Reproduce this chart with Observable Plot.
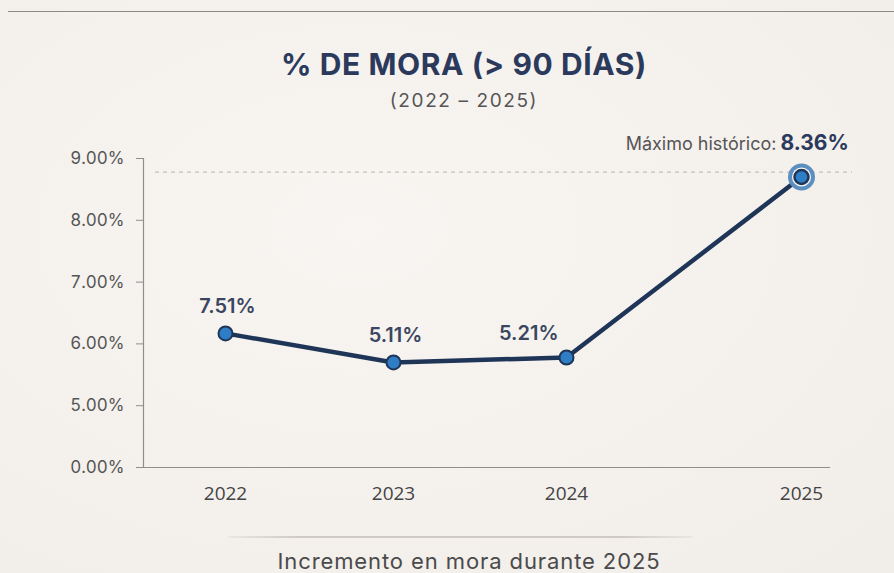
<!DOCTYPE html>
<html><head><meta charset="utf-8">
<script src="https://cdn.jsdelivr.net/npm/d3@7"></script>
<script src="https://cdn.jsdelivr.net/npm/@observablehq/plot@0.6"></script>
<style>
body{margin:0;background:#f5f1ed;}
#wrap{position:relative;width:894px;height:573px;overflow:hidden;background:radial-gradient(ellipse at 40% 40%,#f8f5f2 0%,#f4f0ec 60%,#f1ede8 100%);font-family:Inter,"DejaVu Sans",sans-serif;}
#topline{position:absolute;left:8px;right:0;top:11px;border-top:1.5px solid #8e8984;}
.t{position:absolute;left:0;width:928px;text-align:center;line-height:1;white-space:nowrap;}
#title{top:49px;font-size:30px;font-weight:700;color:#2b3a5c;letter-spacing:0.6px;}
#subtitle{top:91px;font-size:19px;color:#555;letter-spacing:1.6px;}
#capline{position:absolute;left:228px;width:464px;top:536px;height:1.5px;background:linear-gradient(90deg,rgba(200,195,190,0.2),#cfcac4 15%,#cfcac4 85%,rgba(200,195,190,0.2));}
#caption{top:550px;font-size:22px;color:#4a4a4a;width:938px;letter-spacing:0.9px;}
#chart{position:absolute;left:0;top:0;}
</style></head>
<body>
<div id="wrap">
  <div id="topline"></div>
  <div id="chart"></div>
  <div id="title" class="t">% DE MORA (&gt; 90 DÍAS)</div>
  <div id="subtitle" class="t">(2022 – 2025)</div>
  <div id="capline"></div>
  <div id="caption" class="t">Incremento en mora durante 2025</div>
</div>
<script>
// ---- data ----
const years = [2022, 2023, 2024, 2025];
const labelValues = [7.51, 5.11, 5.21, 8.36];      // values printed on the chart
const plottedValues = [6.17, 5.70, 5.78, 8.70];    // where the points sit on the printed axis
const tickValues = [0, 5, 6, 7, 8, 9];
const tickLabels = ["0.00%", "5.00%", "6.00%", "7.00%", "8.00%", "9.00%"];
const maxLineValue = 8.78;
const maxLabelPrefix = "Máximo histórico:";

// broken axis: 0→5 takes one step, then one step per point
const u = v => v <= 5 ? v / 5 : v - 4;

const data = years.map((year, i) => ({year, label: labelValues[i], v: plottedValues[i]}));
const last = data[data.length - 1];
const fmt = d => d.label.toFixed(2) + "%";

const navy = "#1f3557", blue = "#2f7dc5";
const FM = "Inter, 'DejaVu Sans', sans-serif";

const chart = Plot.plot({
  width: 894, height: 573,
  marginTop: 158, marginBottom: 106, marginLeft: 143, marginRight: 64,
  style: {background: "transparent", fontFamily: FM},
  x: {type: "linear", domain: years, range: [225, 393, 566, 801], label: null},
  y: {domain: [0, 5], label: null},
  marks: [
    Plot.ruleY([maxLineValue], {y: u, stroke: "#c6c1bc", strokeWidth: 1.2, strokeDasharray: "4,4", insetLeft: 12, insetRight: -22}),
    Plot.ruleY([0], {stroke: "#8e8e8e", strokeWidth: 1.2}),
    Plot.frame({anchor: "left", stroke: "#8e8e8e", strokeWidth: 1.2}),
    Plot.axisY({ticks: tickValues.map(u), tickFormat: (d, i) => tickLabels[i], tickSize: 7, tickPadding: 12, fontSize: 17, color: "#555", stroke: "#8e8e8e", fontFamily: FM, label: null}),
    Plot.axisX({ticks: years, tickFormat: d => String(d), tickSize: 0, tickPadding: 19, fontSize: 19, color: "#444", fontFamily: "'Open Sans', sans-serif", label: null}),
    Plot.line(data, {x: "year", y: d => u(d.v), stroke: navy, strokeWidth: 4.5, strokeLinejoin: "round", strokeLinecap: "round"}),
    Plot.dot(data.slice(0, 3), {x: "year", y: d => u(d.v), r: 7, fill: blue, stroke: navy, strokeWidth: 2}),
    Plot.dot([last], {x: "year", y: d => u(d.v), r: 13.5, fill: "#5b8fbf"}),
    Plot.dot([last], {x: "year", y: d => u(d.v), r: 9.5, fill: "#fbfaf8"}),
    Plot.dot([last], {x: "year", y: d => u(d.v), r: 7, fill: blue, stroke: navy, strokeWidth: 2.5}),
    Plot.text(data.slice(0, 2), {x: "year", y: d => u(d.v), text: fmt, dy: -20, dx: 2, lineAnchor: "bottom", fontSize: 20, fontWeight: 600, fill: "#3a465f", fontFamily: FM, style: {letterSpacing: "0.6px"}}),
    Plot.text(data.slice(2, 3), {x: "year", y: d => u(d.v), text: fmt, dy: -17, dx: -8, textAnchor: "end", lineAnchor: "bottom", fontSize: 20, fontWeight: 600, fill: "#3a465f", fontFamily: FM}),
    Plot.text([last], {x: "year", y: d => u(d.v), text: () => maxLabelPrefix, dy: -27, dx: -25, textAnchor: "end", lineAnchor: "bottom", fontSize: 18, fill: "#555", fontFamily: FM}),
    Plot.text([last], {x: "year", y: d => u(d.v), text: fmt, dy: -27, dx: -21, textAnchor: "start", lineAnchor: "bottom", fontSize: 21, fontWeight: 700, fill: "#2b3a5c", fontFamily: FM})
  ]
});
document.getElementById("chart").appendChild(chart);
</script>
</body></html>
